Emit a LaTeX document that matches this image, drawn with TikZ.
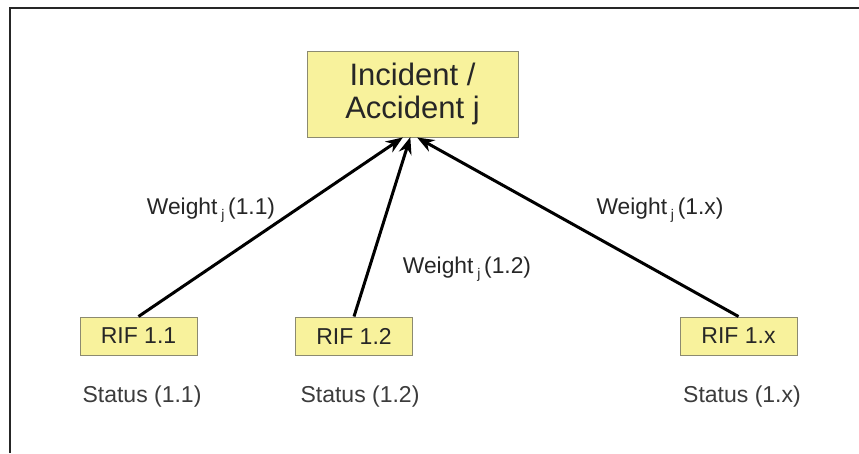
\documentclass[tikz,border=0pt]{standalone}
\usepackage{fontspec}
\setmainfont{Liberation Sans}
\usetikzlibrary{arrows.meta}
\definecolor{boxfill}{HTML}{F8F29C}
\definecolor{boxline}{HTML}{8C8A70}
\definecolor{txt}{HTML}{262626}
\tikzset{
  rifbox/.style={draw=boxline, line width=1pt, fill=boxfill, minimum width=117pt, minimum height=38pt, inner sep=0pt, text=txt, font=\fontsize{23}{27}\selectfont},
  topbox/.style={draw=boxline, line width=1pt, fill=boxfill, minimum width=211pt, minimum height=86pt, inner sep=0pt, text=txt, align=center, font=\fontsize{31}{33}\selectfont},
  lbl/.style={inner sep=0pt, text=txt, font=\fontsize{22.8}{26}\selectfont},
  stat/.style={inner sep=0pt, text=txt!90, font=\fontsize{23}{26}\selectfont},
  conn/.style={line width=3pt, black, -{Stealth[length=17pt,width=13pt]}, shorten >=-1pt}
}
\newcommand{\wsub}{\,\raisebox{-0.45ex}{\fontsize{14}{14}\selectfont j}\,}
\begin{document}
\begin{tikzpicture}[x=1pt,y=-1pt]
\useasboundingbox (0,0) rectangle (859,453);
\fill[white] (0,0) rectangle (859,453);
\draw[line width=2pt, black!85] (10,453) -- (10,8) -- (859,8);

\node[topbox] (top) at (412.5,94) {Incident /\\Accident j};
\node[rifbox] (r11) at (138.5,336) {RIF 1.1};
\node[rifbox] (r12) at (354,336) {RIF 1.2};
\node[rifbox] (r1x) at (738.5,336) {RIF 1.x};

\node[stat] (s11) at (142,397) {Status (1.1)};
\node[stat] (s12) at (360,397) {Status (1.2)};
\node[stat] (s1x) at (742,397) {Status (1.x)};

\coordinate (t1) at (402,138);
\coordinate (t2) at (410,138);
\coordinate (t3) at (418,138);

\draw[conn] (r11.north) -- (t1);
\draw[conn] (r12.north) -- (t2);
\draw[conn] (r1x.north) -- (t3);

\node[lbl] (w11) at (211,210) {Weight\wsub(1.1)};
\node[lbl] (w12) at (467,269) {Weight\wsub(1.2)};
\node[lbl] (w1x) at (660,210) {Weight\wsub(1.x)};
\end{tikzpicture}
\end{document}
